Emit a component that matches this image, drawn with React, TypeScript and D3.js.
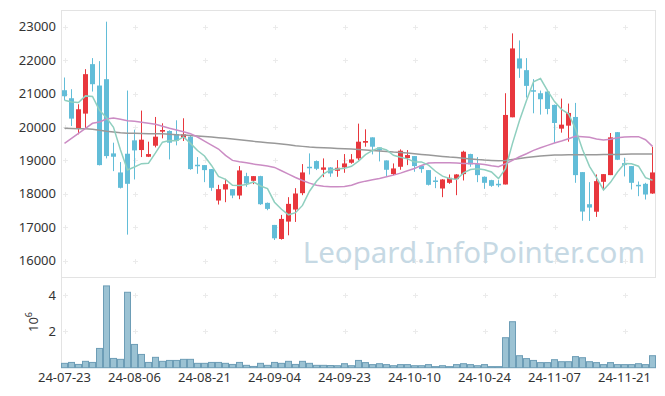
import React from 'react';
import * as d3 from 'd3';

const dates = [
  '24-07-23','24-07-24','24-07-25','24-07-26','24-07-29','24-07-30','24-07-31',
  '24-08-01','24-08-02','24-08-05','24-08-06','24-08-07','24-08-08','24-08-09','24-08-12','24-08-13','24-08-14','24-08-16','24-08-19','24-08-20','24-08-21','24-08-22','24-08-23','24-08-26','24-08-27','24-08-28','24-08-29','24-08-30',
  '24-09-02','24-09-03','24-09-04','24-09-05','24-09-06','24-09-09','24-09-10','24-09-11','24-09-12','24-09-13','24-09-19','24-09-20','24-09-23','24-09-24','24-09-25','24-09-26','24-09-27','24-09-30',
  '24-10-02','24-10-04','24-10-07','24-10-08','24-10-10','24-10-11','24-10-14','24-10-15','24-10-16','24-10-17','24-10-18','24-10-21','24-10-22','24-10-23','24-10-24','24-10-25','24-10-28','24-10-29','24-10-30','24-10-31',
  '24-11-01','24-11-04','24-11-05','24-11-06','24-11-07','24-11-08','24-11-11','24-11-12','24-11-13','24-11-14','24-11-15','24-11-18','24-11-19','24-11-20','24-11-21','24-11-22','24-11-25','24-11-26','24-11-27'
];

const opens = [21100,20860,19960,20400,21880,21240,21430,19210,18640,19200,19600,19310,19110,19440,19860,19880,19790,19680,19710,18870,18860,18740,17800,18130,18140,17950,18530,18390,18530,17730,17070,16650,17170,17530,18020,18810,18980,18720,18790,18690,18790,18930,19060,19530,19690,19390,19000,18590,18810,19070,19130,18840,18710,18400,18160,18330,18440,18590,19190,18890,18510,18410,18300,18280,20290,22050,21700,21100,21010,21060,20660,19950,20040,20300,18650,17690,17465,18360,18560,19845,18920,18830,18270,18300,18010];
const highs = [21480,21130,20680,21730,22060,21970,23150,19530,18950,21090,19920,20490,19560,20300,20110,19900,20200,20260,19750,19100,18860,18740,18270,18450,18140,18830,18630,18530,18540,17740,17070,17370,17900,18170,18890,19210,19000,19060,18800,19010,19190,19190,20100,19930,19690,19400,19000,18910,19330,19310,19130,18840,18710,18510,18440,18580,18590,19290,19200,19100,18520,18420,18410,21010,22800,22590,22060,21430,21090,21110,20670,20850,20700,20720,18650,18350,18580,18590,19820,19850,19080,18830,18370,18330,19410];
const lows = [20800,20030,19780,19950,21060,18850,19060,18680,18160,16780,18430,19100,19100,19390,19660,19030,19450,19580,18720,18600,18350,18090,17680,17750,17870,17840,18210,18290,17670,17510,16620,16630,16760,17160,17960,18580,18710,18500,18510,18510,18630,18900,19010,19410,19180,18970,18510,18560,18720,18860,18660,18630,18250,18170,17900,18300,17960,18400,18810,18350,18150,18210,18200,18280,20290,21470,20880,20410,20370,20380,19520,19830,19560,18330,17195,17190,17310,18110,18560,19010,18520,18130,17930,17830,18000];
const closes = [20920,20250,20530,21580,21280,18860,19130,19110,18180,18300,19300,19620,19190,19710,19910,19530,19590,19780,18740,18840,18710,18180,18140,18290,17950,18700,18310,18530,17690,17550,16670,17250,17700,18010,18640,18790,18750,18790,18610,18780,18910,19030,19560,19580,19410,19300,18720,18760,19290,19160,18830,18740,18270,18380,18430,18480,18580,19260,18880,18560,18330,18240,18270,20360,22350,21750,21230,21080,20830,20540,20120,20070,20420,18560,17470,17590,18380,18590,19690,19020,18860,18330,18230,17980,18640];
const volumesM = [0.24,0.29,0.18,0.35,0.29,1.06,4.50,0.51,0.46,4.15,1.28,0.73,0.29,0.57,0.35,0.40,0.40,0.46,0.46,0.24,0.24,0.29,0.29,0.24,0.18,0.29,0.13,0.07,0.24,0.13,0.29,0.24,0.35,0.18,0.35,0.24,0.13,0.13,0.12,0.11,0.22,0.11,0.40,0.28,0.17,0.22,0.17,0.11,0.17,0.17,0.11,0.11,0.17,0.06,0.11,0.06,0.17,0.22,0.17,0.11,0.17,0.06,0.06,1.65,2.53,0.66,0.50,0.40,0.28,0.28,0.44,0.33,0.33,0.61,0.55,0.33,0.28,0.17,0.28,0.17,0.17,0.17,0.22,0.17,0.66];

// closes of the 4 sessions before the window (for the 5-day average)
const priorCloses = [20500, 20630, 20580, 21370];
const ma20 = [19510,19660,19810,19960,20110,20150,20240,20270,20230,20190,20170,20140,20110,20080,20020,19960,19910,19860,19800,19700,19580,19460,19340,19150,19000,18960,18930,18890,18860,18830,18790,18690,18590,18490,18400,18320,18260,18230,18210,18210,18220,18260,18330,18380,18420,18460,18510,18560,18620,18690,18760,18850,18920,18930,18930,18930,18920,18910,18910,18900,18880,18840,18810,18900,19000,19110,19200,19300,19380,19450,19520,19580,19650,19720,19710,19690,19640,19610,19630,19680,19700,19710,19710,19620,19420];
const ma60 = [19960,19955,19950,19945,19935,19900,19870,19850,19830,19815,19810,19805,19800,19800,19795,19785,19770,19760,19745,19730,19715,19700,19680,19660,19640,19620,19595,19570,19550,19530,19510,19490,19470,19440,19420,19400,19390,19380,19370,19360,19350,19340,19330,19315,19300,19285,19270,19250,19235,19220,19200,19180,19160,19140,19120,19100,19085,19065,19045,19025,19010,19000,18990,19000,19030,19060,19085,19110,19130,19145,19160,19165,19170,19170,19170,19170,19170,19175,19180,19180,19185,19190,19190,19190,19190];

const priceTicks = [16000,17000,18000,19000,20000,21000,22000,23000];
const volTicks = [2, 4];
const xTickEvery = 10;

const UP = '#e8373d';
const DOWN = '#62bdd8';
const FONT = '"Noto Sans", sans-serif';

export default function App() {
  const n = dates.length;
  const idx = d3.range(n);
  const x = d3.scaleBand<number>().domain(idx).range([61, 656]).padding(0);
  const cx = (i: number) => (x(i) as number) + x.bandwidth() / 2;
  const y = d3.scaleLinear().domain([16000, 23000]).range([260.7, 26.7]);
  const yv = d3.scaleLinear().domain([0, 4]).range([367.7, 295]);

  const allCloses = priorCloses.concat(closes);
  const ma5 = idx.map(i => d3.mean(allCloses.slice(i, i + 5)) as number);

  const line = d3.line<number>().x((_, i) => cx(i)).y(d => y(d));
  const xTicks = idx.filter(i => i % xTickEvery === 0);
  const bodyW = 5;

  const crosses: string[] = [];
  xTicks.forEach(i => {
    const px = Math.round(cx(i)) + 0.5;
    priceTicks.forEach(p => { const py = Math.round(y(p)) + 0.5; crosses.push(`M${px - 2.5},${py}h5M${px},${py - 2.5}v5`); });
    volTicks.forEach(v => { const py = Math.round(yv(v)) + 0.5; crosses.push(`M${px - 2.5},${py}h5M${px},${py - 2.5}v5`); });
  });

  return (
    <svg width={665} height={396} style={{ position: 'absolute', left: 0, top: 0, display: 'block' }} fontFamily={FONT}>
      <rect x={0} y={0} width={665} height={396} fill="#fff" />
      {/* frame */}
      <g stroke="#e3e3e3" strokeWidth={1} fill="none">
        <line x1={61.5} y1={10.5} x2={656} y2={10.5} />
        <line x1={61.5} y1={10} x2={61.5} y2={368} />
        <line x1={655.5} y1={10} x2={655.5} y2={278} />
        <line x1={61.5} y1={277.5} x2={656} y2={277.5} />
        <line x1={61.5} y1={367.5} x2={656} y2={367.5} />
      </g>
      <path d={crosses.join('')} stroke="#ebebeb" strokeWidth={1} fill="none" />

      {/* watermark */}
      <text x={645} y={263} textAnchor="end" fontSize={29.5} fill="#c6d9e4" fontFamily={FONT}>Leopard.InfoPointer.com</text>

      {/* volume */}
      <g>
        {idx.map(i => (
          <rect key={i} x={(x(i) as number) + 0.5} y={yv(volumesM[i])} width={x.bandwidth() - 1}
            height={yv(0) - yv(volumesM[i])} fill="#9bc2d3" stroke="#6d9db6" strokeWidth={1} />
        ))}
      </g>

      {/* candles */}
      <g>
        {idx.map(i => {
          const up = closes[i] >= opens[i];
          const c = up ? UP : DOWN;
          const top = y(Math.max(opens[i], closes[i]));
          const bot = y(Math.min(opens[i], closes[i]));
          return (
            <g key={i}>
              <line x1={cx(i)} x2={cx(i)} y1={y(highs[i])} y2={y(lows[i])} stroke={c} strokeWidth={1} />
              <rect x={cx(i) - bodyW / 2} y={top} width={bodyW} height={Math.max(1.5, bot - top)} fill={c} />
            </g>
          );
        })}
      </g>

      {/* moving averages */}
      <path d={line(ma60) || ''} fill="none" stroke="#999" strokeWidth={1.5} />
      <path d={line(ma20) || ''} fill="none" stroke="#cb8cc4" strokeWidth={1.5} />
      <path d={line(ma5) || ''} fill="none" stroke="#8fcfbf" strokeWidth={1.5} />

      {/* y axis labels */}
      <g fontSize={13} fill="#333" textAnchor="end">
        {priceTicks.map(p => (
          <text key={p} x={56} y={y(p)} dy="0.35em">{p}</text>
        ))}
        {volTicks.map(v => (
          <text key={v} x={56} y={yv(v)} dy="0.35em">{v}</text>
        ))}
      </g>
      <text transform="translate(38,322) rotate(-90)" fontSize={13} fill="#333" textAnchor="middle">
        10<tspan fontSize={9} dy={-6}>6</tspan>
      </text>

      {/* x axis labels */}
      <g fontSize={13} fill="#333" textAnchor="middle">
        {xTicks.map(i => (
          <text key={i} x={cx(i)} y={382}>{dates[i]}</text>
        ))}
      </g>
    </svg>
  );
}
